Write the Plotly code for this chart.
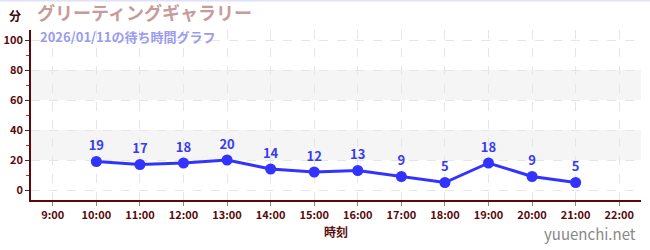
import plotly.graph_objects as go

hours = [10, 11, 12, 13, 14, 15, 16, 17, 18, 19, 20, 21]
waits = [19, 17, 18, 20, 14, 12, 13, 9, 5, 18, 9, 5]
tick_hours = list(range(9, 23))
tick_labels = [f"{h}:00" for h in tick_hours]
title_text = "グリーティングギャラリー"
subtitle_text = "2026/01/11の待ち時間グラフ"
y_ticks = [0, 20, 40, 60, 80, 100]

FONT = "Noto Sans CJK JP"
AX = "#5a0a0a"
TOP = 30
PLOT_H = 250 - TOP - 50

fig = go.Figure()
fig.add_trace(go.Scatter(
    x=hours, y=waits, mode="lines+markers+text",
    text=[str(v) for v in waits], textposition="top center",
    textfont=dict(family=FONT, size=13, color="#3a3af0", weight="bold"),
    line=dict(color="#3333ff", width=3),
    marker=dict(color="#3333ff", size=11),
    cliponaxis=False, hoverinfo="skip",
))

for lo, hi in [(20, 40), (60, 80)]:
    fig.add_shape(type="rect", xref="paper", yref="y", x0=0, x1=1, y0=lo, y1=hi,
                  fillcolor="#f5f5f5", line=dict(width=0), layer="below")

page_top = 1 + TOP / PLOT_H
fig.add_shape(type="line", xref="paper", yref="paper", x0=-0.1, x1=1.1,
              y0=page_top - 0.003, y1=page_top - 0.003,
              line=dict(color="#e0e0f8", width=2))

fig.update_layout(
    width=650, height=250,
    margin=dict(l=31, r=9, t=TOP, b=50, autoexpand=False),
    paper_bgcolor="white", plot_bgcolor="white",
    showlegend=False,
    font=dict(family=FONT, color=AX),
    xaxis=dict(
        range=[8.5, 22.5], tickvals=tick_hours, ticktext=tick_labels,
        tickfont=dict(family=FONT, size=11, color=AX, weight="bold"),
        showgrid=True, gridcolor="#e6e6e6", griddash="dash", gridwidth=1,
        showline=True, linecolor=AX, linewidth=1.5,
        ticks="outside", ticklen=4, tickcolor="#888888",
        zeroline=False, fixedrange=True, automargin=False,
        title=dict(text="時刻", font=dict(family=FONT, size=12, color=AX, weight="bold"), standoff=8),
    ),
    yaxis=dict(
        range=[-6.67, 106.67], tickvals=y_ticks,
        tickfont=dict(family=FONT, size=11, color=AX, weight="bold"),
        showgrid=True, gridcolor="#e6e6e6", griddash="dash", gridwidth=1,
        showline=True, linecolor=AX, linewidth=1.5,
        ticks="outside", ticklen=4, tickcolor="#333333",
        minor=dict(tickvals=[10, 30, 50, 70, 90], ticks="outside", ticklen=3, tickcolor="#dd2222", showgrid=False),
        zeroline=False, fixedrange=True, automargin=False,
    ),
    annotations=[
        dict(text="分", xref="paper", yref="paper", x=0, y=1.0, xanchor="right", yanchor="bottom",
             xshift=-8, yshift=4, showarrow=False,
             font=dict(family=FONT, size=12, color="#3a0a0a", weight="bold")),
        dict(text=title_text, xref="paper", yref="paper", x=0, y=1.0, xanchor="left", yanchor="bottom",
             xshift=4, yshift=3, showarrow=False,
             font=dict(family=FONT, size=18, color="#c99a9a", weight="bold")),
        dict(text=subtitle_text, xref="paper", yref="paper", x=0, y=1.0, xanchor="left", yanchor="top",
             xshift=7, yshift=5, showarrow=False,
             font=dict(family=FONT, size=13, color="#9b9bf0", weight="bold")),
        dict(text="yuuenchi.net", xref="paper", yref="paper", x=1.0, y=0, xanchor="right", yanchor="top",
             xshift=-3, yshift=-21, showarrow=False,
             font=dict(family=FONT, size=15, color="#888888")),
    ],
)

fig.write_html("out.html")
